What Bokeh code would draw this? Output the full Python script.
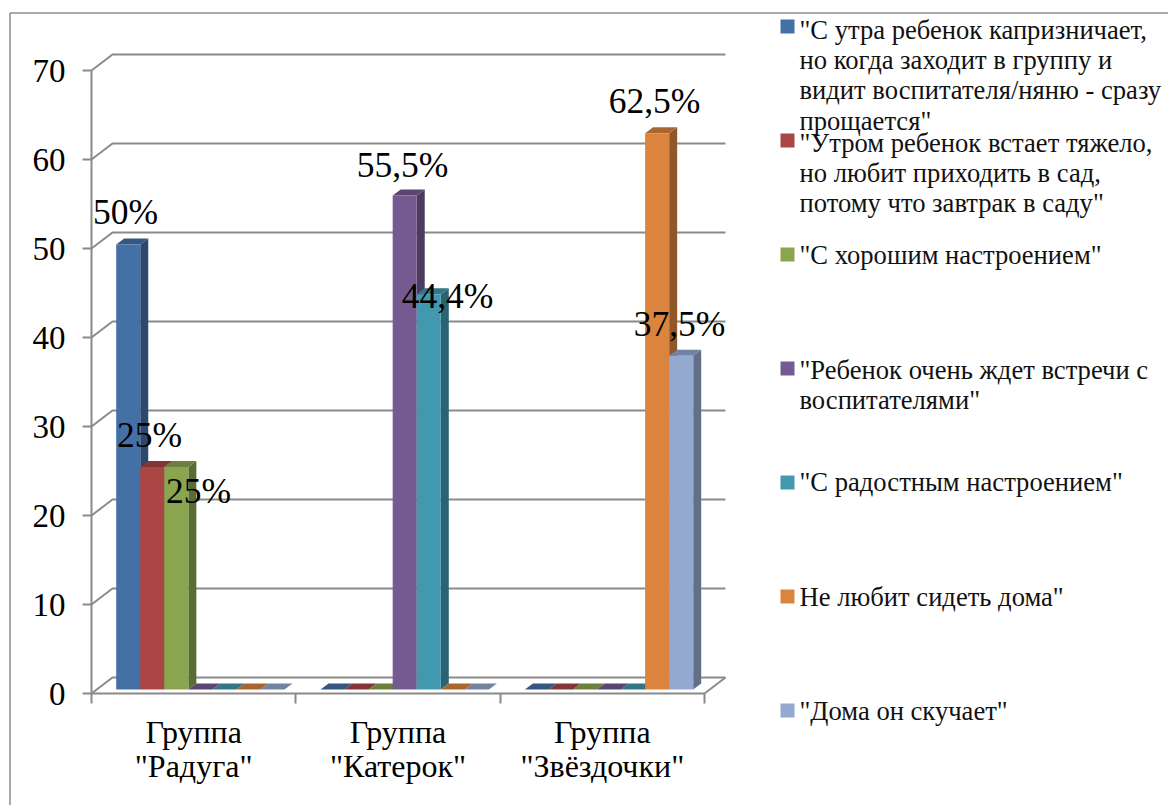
from bokeh.plotting import figure
from bokeh.models import LinearAxis, FixedTicker, Range1d
from bokeh.core.properties import value
from bokeh.embed import file_html
from bokeh.resources import INLINE

# ---- data ----
groups = ['Группа\n"Радуга"', 'Группа\n"Катерок"', 'Группа\n"Звёздочки"']
y_ticks = [0, 10, 20, 30, 40, 50, 60, 70]
s1 = [50, 0, 0]
s2 = [25, 0, 0]
s3 = [25, 0, 0]
s4 = [0, 55.5, 0]
s5 = [0, 44.4, 0]
s6 = [0, 0, 62.5]
s7 = [0, 0, 37.5]
series = [s1, s2, s3, s4, s5, s6, s7]
colors = ["#4470A6", "#AA4643", "#89A54E", "#755A91", "#4198AF", "#DB843D", "#93A9CF"]
legend_lines = [
    ['"С утра ребенок капризничает,', 'но когда заходит в группу и', 'видит воспитателя/няню - сразу', 'прощается"'],
    ['"Утром ребенок встает тяжело,', 'но любит приходить в сад,', 'потому что завтрак в саду"'],
    ['"С хорошим настроением"'],
    ['"Ребенок очень ждет встречи с', 'воспитателями"'],
    ['"С радостным настроением"'],
    ['Не любит сидеть дома"'],
    ['"Дома он скучает"'],
]
# hand-placed data label centres in the original (series, group, px x, px y)
label_places = [
    (0, 0, 125, 211), (1, 0, 149, 434), (2, 0, 198, 490),
    (3, 1, 402, 164), (4, 1, 447, 295),
    (5, 2, 654, 100), (6, 2, 679, 323),
]
# small hand adjustment of each legend text block against its key
legend_nudge = [10, 9, 7, 8, 6, 7, 7]

# ---- geometry: pixel <-> data ----
W, H = 1168, 805
PAGE = 0
X0, GROUP_W = 91, 204.33
Y0, UNIT = 693, 8.9
def xd(px): return (px - X0) / GROUP_W
def yd(py): return (Y0 - py) / UNIT
def dx(px): return px / GROUP_W
def dy(px): return px / UNIT

WALL_X, WALL_Y = dx(21), dy(16)
BAR_W = dx(24.05)
BAR_LIFT = dy(4)
BAR_START = dx(24.7)
DEPTH_X, DEPTH_Y = dx(8), dy(6)
GRID = "#8A8A8A"
FONT = value("Liberation Serif")

def shade(c, k):
    r, g, b = int(c[1:3], 16), int(c[3:5], 16), int(c[5:7], 16)
    return "#%02x%02x%02x" % (int(r * k), int(g * k), int(b * k))

p = figure(width=W, height=H, toolbar_location=None, output_backend="svg",
           x_range=Range1d(xd(PAGE), xd(PAGE + W)), y_range=Range1d(yd(PAGE + H), yd(PAGE)),
           x_axis_type=None, y_axis_type=None, min_border=0, outline_line_color=None)
p.grid.visible = False

# outer frame
p.segment([xd(9.5), xd(9.5)], [yd(12.5), yd(12.5)], [xd(1168), xd(9.5)], [yd(12.5), yd(805)],
          line_color="#8C8C8C", line_width=1.5)

# walls and floor
for t in y_ticks:
    p.line([0, WALL_X, 3 + WALL_X], [t, t + WALL_Y, t + WALL_Y], line_color=GRID, line_width=2)
p.line([3, 3 + WALL_X], [0, WALL_Y], line_color=GRID, line_width=2)

# bars
for i, (vals, col) in enumerate(zip(series, colors)):
    lefts = [g + BAR_START + i * BAR_W for g in range(3)]
    rights = [l + BAR_W for l in lefts]
    bottoms = [BAR_LIFT] * 3
    tops = [BAR_LIFT + v for v in vals]
    top_x = [[l, r, r + DEPTH_X, l + DEPTH_X] for l, r in zip(lefts, rights)]
    top_y = [[t, t, t + DEPTH_Y, t + DEPTH_Y] for t in tops]
    side_x = [[r, r + DEPTH_X, r + DEPTH_X, r] for r in rights]
    side_y = [[BAR_LIFT, BAR_LIFT + DEPTH_Y, t + DEPTH_Y, t] for t in tops]
    p.patches(side_x, side_y, fill_color=shade(col, 0.66), line_color=None)
    p.patches(top_x, top_y, fill_color=shade(col, 0.78), line_color=None)
    p.quad(left=lefts, right=rights, bottom=bottoms, top=tops,
           fill_color=col, line_color=None)

# axes
yaxis = LinearAxis(fixed_location=0, ticker=FixedTicker(ticks=y_ticks), bounds=(0, 70))
yaxis.axis_line_color = GRID
yaxis.axis_line_width = 2
yaxis.major_tick_line_color = GRID
yaxis.major_tick_line_width = 2
yaxis.major_tick_in = 0
yaxis.major_tick_out = 9
yaxis.minor_tick_line_color = None
yaxis.major_label_standoff = 17
yaxis.major_label_text_font = "Liberation Serif"
yaxis.major_label_text_font_size = "33px"
yaxis.major_label_text_color = "#000000"
p.add_layout(yaxis, "left")

xaxis = LinearAxis(fixed_location=0, bounds=(0, 3),
                   ticker=FixedTicker(ticks=[g + 0.5 for g in range(3)], minor_ticks=[0, 1, 2, 3]),
                   major_label_overrides={g + 0.5: groups[g] for g in range(3)})
xaxis.axis_line_color = GRID
xaxis.axis_line_width = 2
xaxis.major_tick_line_color = None
xaxis.minor_tick_line_color = GRID
xaxis.minor_tick_line_width = 2
xaxis.minor_tick_in = 0
xaxis.minor_tick_out = 10
xaxis.major_label_standoff = 10
xaxis.major_label_text_font = "Liberation Serif"
xaxis.major_label_text_font_size = "32px"
xaxis.major_label_text_line_height = 0.95
xaxis.major_label_text_color = "#000000"
p.add_layout(xaxis, "below")

# data labels
p.text([xd(l[2]) for l in label_places], [yd(l[3]) for l in label_places],
       text=[f"{series[l[0]][l[1]]:g}%".replace(".", ",") for l in label_places],
       text_font=FONT, text_font_size="35.5px", text_color="#000000",
       text_align="center", text_baseline="middle")

# legend
KEY_X, KEY_SIZE, TEXT_X = 780, 14, 799
FIRST_Y, STEP_Y, LINE_H = 19, 114, 30.4
kx, ky, tx, ty, tt = [], [], [], [], []
for i, lines in enumerate(legend_lines):
    top = FIRST_Y + i * STEP_Y
    kx.append(xd(KEY_X + KEY_SIZE / 2)); ky.append(yd(top + KEY_SIZE / 2))
    for j, line in enumerate(lines):
        tx.append(xd(TEXT_X)); ty.append(yd(top + legend_nudge[i] + j * LINE_H)); tt.append(line)
p.text(tx, ty, text=tt, text_font=FONT, text_font_size="26.6px", text_color="#111111",
       text_align="left", text_baseline="alphabetic")
p.rect(kx, ky, width=dx(KEY_SIZE), height=dy(KEY_SIZE), fill_color=colors, line_color=None)

open("out.html", "w").write(file_html(p, INLINE))
